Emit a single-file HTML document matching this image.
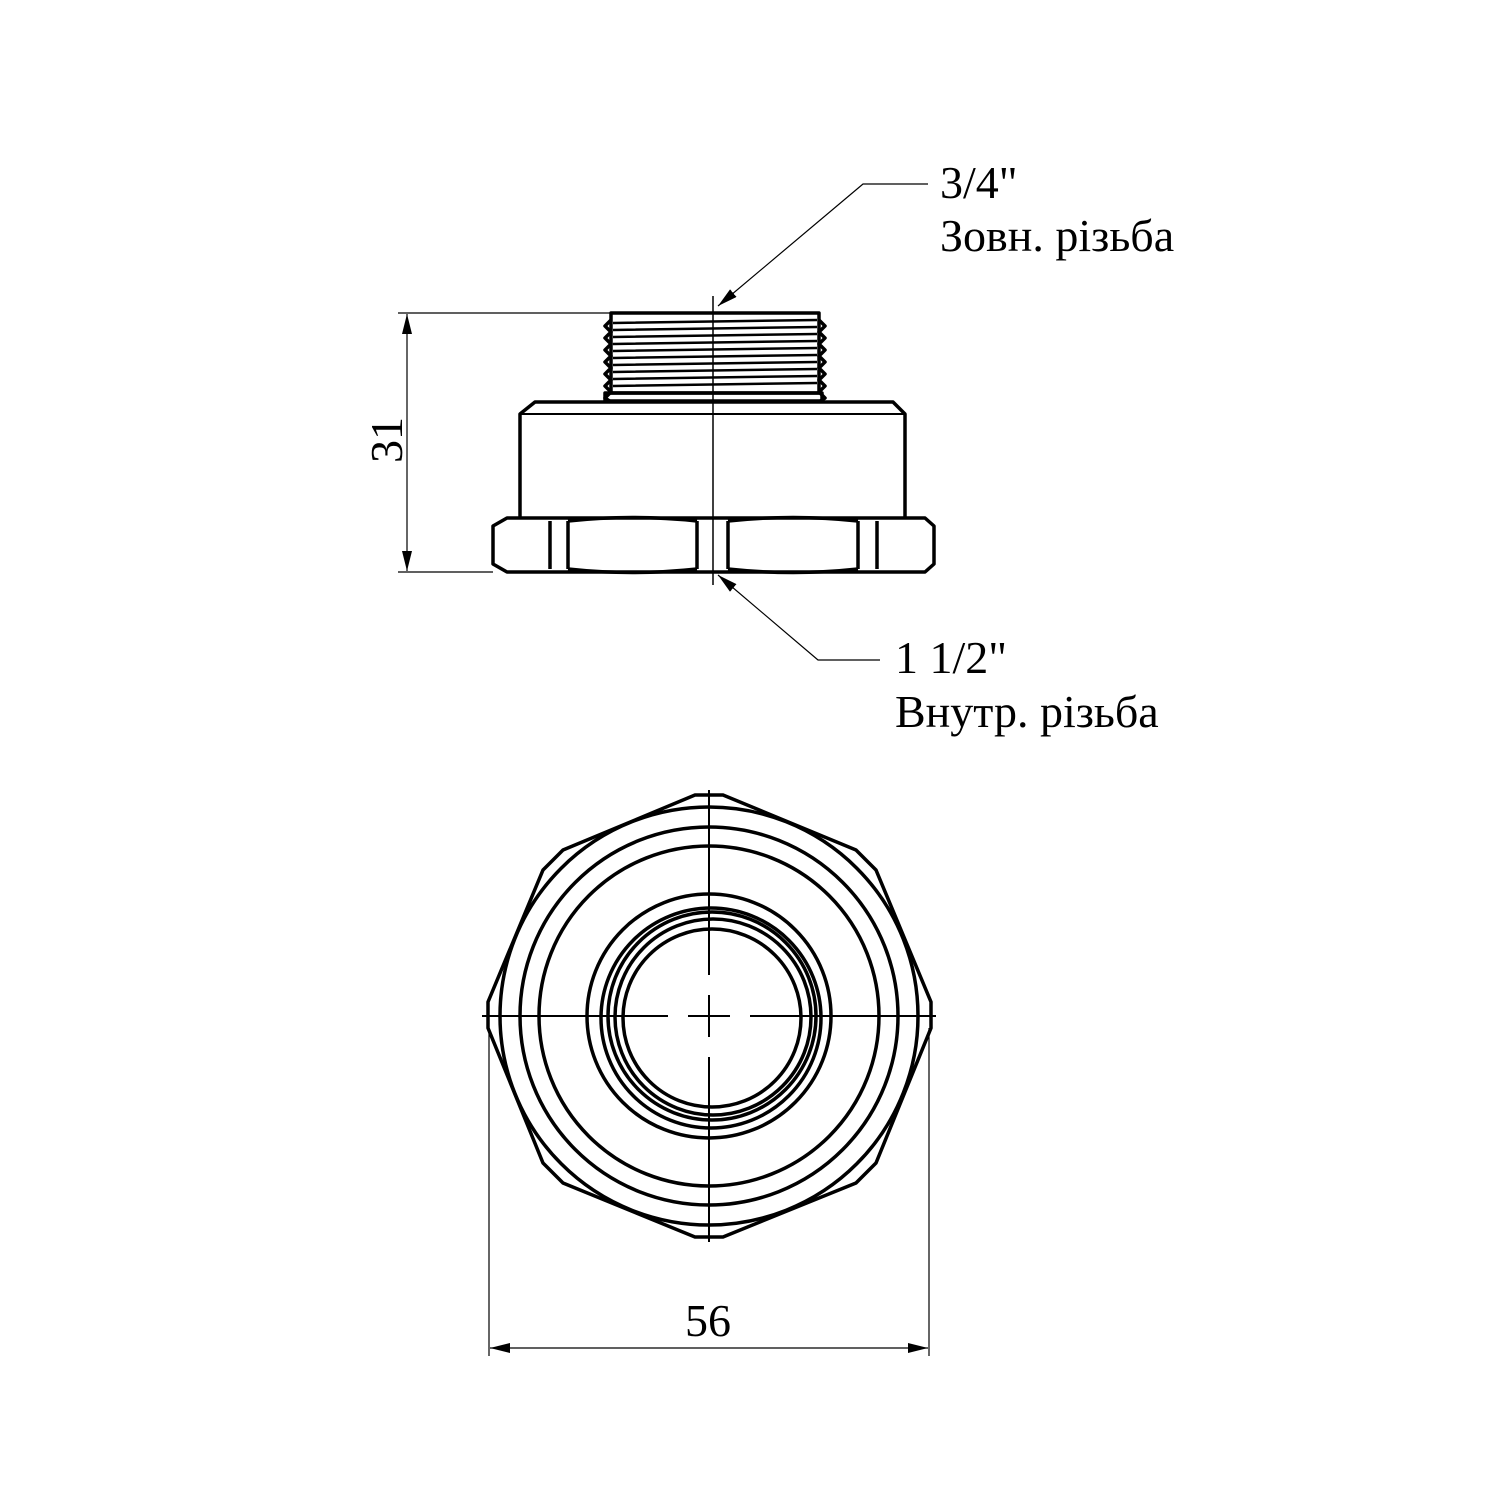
<!DOCTYPE html>
<html><head><meta charset="utf-8"><style>
html,body{margin:0;padding:0;background:#fff;}
svg{display:block;}
text{font-family:"Liberation Serif",serif;font-size:46px;fill:#000;}
</style></head><body>
<svg width="1500" height="1500" viewBox="0 0 1500 1500" xmlns="http://www.w3.org/2000/svg">
<defs>
<marker id="b" markerWidth="20" markerHeight="10" refX="20" refY="5" orient="auto-start-reverse" markerUnits="userSpaceOnUse">
<path d="M0,0 L20,5 L0,10 Z" fill="#000"/></marker>
</defs>
<g fill="none" stroke="#000">
<g stroke-width="3.5" stroke-linejoin="round">
<rect x="611" y="313" width="208" height="80"/>
<path d="M611,320 l-6,6 l6,6 l-6,6 l6,6 l-6,6 l6,6 l-6,6 l6,6 l-6,6 l6,6 l-6,6 l6,6 l-6,6 l6,4"/>
<path d="M819,320 l6,6 l-6,6 l6,6 l-6,6 l6,6 l-6,6 l6,6 l-6,6 l6,6 l-6,6 l6,6 l-6,6 l6,6 l-6,4"/>
<path d="M613,323 L817,320 M613,330 L817,327 M613,337 L817,334 M613,344 L817,341 M613,351 L817,348 M613,358 L817,355 M613,365 L817,362 M613,372 L817,369 M613,379 L817,376 M613,386 L817,383" stroke-width="2.5"/>
<rect x="605" y="393" width="217" height="8"/>
<path d="M520,517 L520,414 L535,402 L893,402 L905,414 L905,517"/>
<path d="M520,414 L905,414" stroke-width="2"/>
<path d="M507,518 L925,518 L934,526 L934,564 L925,572 L507,572 L493,564 L493,526 Z"/>
<path d="M550,521 L550,569 M568,521 L568,569 M697,521 L697,569 M728,521 L728,569 M858,521 L858,569 M877,521 L877,569"/>
<path d="M568,521 Q632,514 697,521 M568,569 Q632,576 697,569 M728,521 Q793,514 858,521 M728,569 Q793,576 858,569"/>
</g>
<line x1="713" y1="296" x2="713" y2="585" stroke-width="1.5"/>
<g stroke-width="1.2">
<line x1="398" y1="313" x2="610" y2="313"/>
<line x1="398" y1="572" x2="493" y2="572"/>
<line x1="407" y1="314" x2="407" y2="571" marker-start="url(#b)" marker-end="url(#b)"/>
<polyline points="928,184 863,184 718,306" marker-end="url(#b)"/>
<polyline points="880,660 818,660 718,575" marker-end="url(#b)"/>
<line x1="489" y1="1028" x2="489" y2="1356"/>
<line x1="929" y1="1028" x2="929" y2="1356"/>
<line x1="490" y1="1348" x2="928" y2="1348" marker-start="url(#b)" marker-end="url(#b)"/>
</g>
<g stroke-width="3.5">
<polygon points="695,795 723,795 856,850 876,870 931,1002 931,1028 876,1163 856,1183 723,1237 695,1237 563,1183 543,1163 488,1028 488,1002 543,870 563,850"/>
<circle cx="709" cy="1016" r="209"/>
<circle cx="709" cy="1016" r="189"/>
<circle cx="709" cy="1016" r="170"/>
<circle cx="709" cy="1016" r="122"/>
<circle cx="711" cy="1018" r="110"/>
<circle cx="712" cy="1016" r="104"/>
<circle cx="713" cy="1017" r="98"/>
<circle cx="712" cy="1018" r="89"/>
</g>
<g stroke-width="2">
<line x1="709" y1="790" x2="709" y2="975"/>
<line x1="709" y1="995" x2="709" y2="1037"/>
<line x1="709" y1="1057" x2="709" y2="1242"/>
<line x1="482" y1="1016" x2="668" y2="1016"/>
<line x1="688" y1="1016" x2="730" y2="1016"/>
<line x1="750" y1="1016" x2="936" y2="1016"/>
</g>
</g>
<text x="940" y="198">3/4"</text>
<text x="940" y="251">Зовн. різьба</text>
<text x="895" y="673">1 1/2"</text>
<text x="895" y="727">Внутр. різьба</text>
<text x="708" y="1336" text-anchor="middle">56</text>
<text x="0" y="0" transform="translate(402,440) rotate(-90)" text-anchor="middle">31</text>
</svg>
</body></html>
